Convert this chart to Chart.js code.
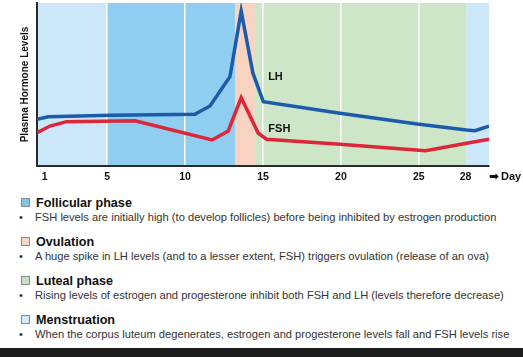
<!DOCTYPE html>
<html><head><meta charset="utf-8">
<script src="https://cdn.jsdelivr.net/npm/chart.js@4"></script>
<style>
html,body{margin:0;padding:0;background:#fff;width:523px;height:357px;overflow:hidden;font-family:"Liberation Sans",Arial,sans-serif;}
#wrap{position:absolute;left:0;top:0;width:523px;height:190px;}
.h{position:absolute;left:21px;font-weight:bold;font-size:12.6px;color:#111;line-height:14px;white-space:nowrap}
.h i{display:inline-block;width:7px;height:7px;border:1px solid #8a8a8a;margin-right:6px;vertical-align:0px}
.d{position:absolute;left:19px;font-size:11px;color:#333;line-height:13px;white-space:nowrap}
.t{position:absolute;left:35px;font-size:11.15px;color:#333;line-height:13px;white-space:nowrap}
#bar{position:absolute;left:0;top:348px;width:523px;height:9px;background:#1c1c1c}
</style></head>
<body>
<div id="wrap"><canvas id="c" width="523" height="190"></canvas></div>
<div id="legend"></div>
<div id="bar"></div>
<script>
// ---- data ----
const tickDays = [1, 5, 10, 15, 20, 25, 28];
const gridDays = [5, 10, 15, 20, 25];
const lhDays   = [0.5, 1.22, 5.25, 10.63, 11.6, 12.88, 13.6, 14.35, 15.02, 19.94, 24.89, 28.06, 28.6, 29.5];
const lhLevels = [28.7, 30.2, 31.1, 31.7, 36.8, 54.8, 95.0, 57.1, 39.4, 32.3, 25.8, 22.1, 21.7, 24.5];
const fshDays   = [0.5, 1.33, 2.4, 6.79, 11.73, 12.77, 13.6, 14.7, 15.23, 19.94, 25.43, 28.06, 29.5];
const fshLevels = [20.4, 24.5, 27.2, 27.8, 16.0, 21.5, 41.9, 20.1, 16.4, 13.3, 9.4, 13.9, 16.4];
const phaseNames  = ['Menstruation', 'Follicular phase', 'Ovulation', 'Luteal phase', 'Menstruation'];
const phaseStart  = [0.5, 5, 13.2, 14.48, 28.05];
const phaseEnd    = [5, 13.2, 14.48, 28.05, 29.5];
const phaseColors = ['#cbe7f9', '#8fcdf1', '#f8d3c1', '#cce6c7', '#cbe7f9'];
const seriesLabels = ['LH', 'FSH'];
const legendTitles = ['Follicular phase', 'Ovulation', 'Luteal phase', 'Menstruation'];
const legendColors = ['#7fc2ec', '#f6d5c6', '#c4e2bd', '#d2eafa'];
const legendTexts = [
  'FSH levels are initially high (to develop follicles) before being inhibited by estrogen production',
  'A huge spike in LH levels (and to a lesser extent, FSH) triggers ovulation (release of an ova)',
  'Rising levels of estrogen and progesterone inhibit both FSH and LH (levels therefore decrease)',
  'When the corpus luteum degenerates, estrogen and progesterone levels fall and FSH levels rise'
];

// ---- legend below ----
const lg = document.getElementById('legend');
legendTitles.forEach((t, i) => {
  const top = 196 + i * 39;
  const h = document.createElement('div');
  h.className = 'h'; h.style.top = top + 'px';
  h.innerHTML = '<i style="background:' + legendColors[i] + '"></i>' + t;
  lg.appendChild(h);
  const d = document.createElement('div');
  d.className = 'd'; d.style.top = (top + 15) + 'px'; d.textContent = '•';
  lg.appendChild(d);
  const tx = document.createElement('div');
  tx.className = 't'; tx.style.top = (top + 15) + 'px'; tx.textContent = legendTexts[i];
  lg.appendChild(tx);
});

// ---- plugins ----
const bands = {
  id: 'bands',
  beforeDraw(chart) {
    const {ctx, chartArea: a, scales: {x}} = chart;
    ctx.save();
    phaseStart.forEach((s, i) => {
      const x0 = x.getPixelForValue(s), x1 = x.getPixelForValue(phaseEnd[i]);
      ctx.fillStyle = phaseColors[i];
      ctx.fillRect(x0, a.top, x1 - x0, a.bottom - a.top);
    });
    ctx.restore();
  }
};
const labels = {
  id: 'labels',
  afterDatasetsDraw(chart) {
    const {ctx, scales: {x, y}} = chart;
    ctx.save();
    ctx.font = 'bold 11px "Liberation Sans", Arial, sans-serif';
    ctx.fillStyle = '#111';
    ctx.textAlign = 'center'; ctx.textBaseline = 'middle';
    ctx.fillText(seriesLabels[0], x.getPixelForValue(15.8), y.getPixelForValue(54.8));
    ctx.fillText(seriesLabels[1], x.getPixelForValue(16.05), y.getPixelForValue(22.5));
    // Day arrow label
    const ty = 177;
    ctx.textAlign = 'left';
    ctx.font = 'bold 12px "DejaVu Sans", sans-serif';
    ctx.fillText('➡', 489, ty);
    ctx.font = 'bold 11px "Liberation Sans", Arial, sans-serif';
    ctx.fillText('Day', 501, ty);
    ctx.restore();
  }
};

new Chart(document.getElementById('c'), {
  type: 'line',
  data: {
    datasets: [
      { label: seriesLabels[0], data: lhDays.map((d, i) => ({x: d, y: lhLevels[i]})),
        borderColor: '#1b5ba9', borderWidth: 3.5, pointRadius: 0, tension: 0, fill: false },
      { label: seriesLabels[1], data: fshDays.map((d, i) => ({x: d, y: fshLevels[i]})),
        borderColor: '#de2639', borderWidth: 3.5, pointRadius: 0, tension: 0, fill: false }
    ]
  },
  options: {
    responsive: false, animation: false, devicePixelRatio: 1,
    layout: { padding: { top: 3, right: 34, left: 0, bottom: 0 } },
    plugins: { legend: { display: false }, tooltip: { enabled: false } },
    scales: {
      x: {
        type: 'linear', min: 0.5, max: 29.5,
        afterBuildTicks: s => { s.ticks = tickDays.map(v => ({value: v})); },
        afterFit: s => { s.height = 24; },
        ticks: { color: '#111', font: { family: '"Liberation Sans", Arial, sans-serif', size: 10.5, weight: 'bold' },
          padding: 5, maxRotation: 0, minRotation: 0, autoSkip: false, sampleSize: 20,
          callback: v => String(v) },
        grid: { drawTicks: false, lineWidth: 1.5,
          color: c => (c.tick && gridDays.includes(c.tick.value)) ? 'rgba(255,255,255,0.95)' : 'rgba(0,0,0,0)' },
        border: { display: true, color: '#2a2a2a', width: 2 }
      },
      y: {
        min: 0, max: 100,
        afterFit: s => { s.width = 37; },
        ticks: { display: false },
        grid: { display: false, drawTicks: false },
        border: { display: true, color: '#2a2a2a', width: 2 },
        title: { display: true, text: 'Plasma Hormone Levels', color: '#111',
          font: { family: '"Liberation Sans", Arial, sans-serif', size: 10, weight: 'bold' },
          padding: { top: 19, bottom: 0 } }
      }
    }
  },
  plugins: [bands, labels]
});
</script>
</body></html>
